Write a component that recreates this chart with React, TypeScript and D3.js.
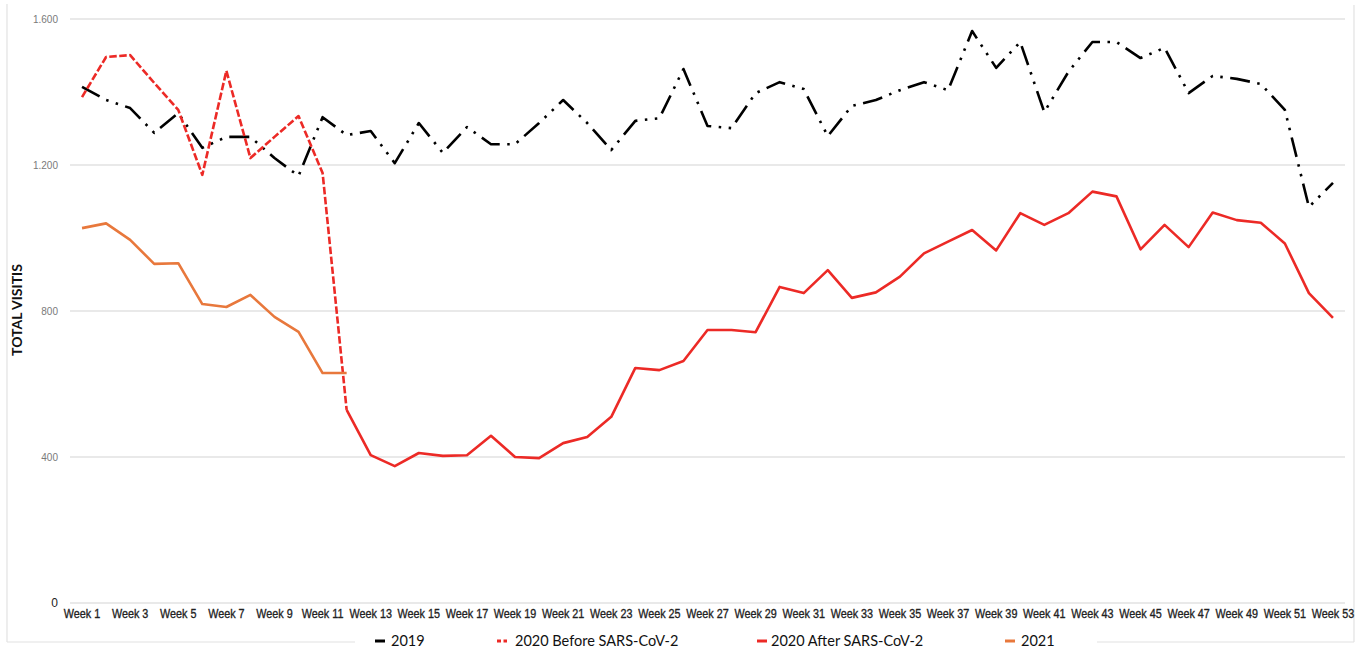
import React from "react";
import * as d3 from "d3";

// week categories, x axis shows every other one
const weeks = Array.from({ length: 53 }, (_, i) => `Week ${i + 1}`);
const yTicks = [0, 400, 800, 1200, 1600];
const yTickLabels = ["0", "400", "800", "1.200", "1.600"];

const visits2019 = [
  1414, 1378, 1356, 1288, 1342, 1247, 1277, 1277, 1219, 1170,
  1331, 1282, 1293, 1205, 1315, 1233, 1304, 1257, 1257, 1315,
  1378, 1315, 1241, 1321, 1328, 1463, 1307, 1301, 1397, 1427,
  1408, 1279, 1362, 1378, 1405, 1427, 1405, 1567, 1466, 1537,
  1345, 1455, 1537, 1537, 1493, 1521, 1397, 1444, 1436, 1422,
  1351, 1085, 1151,
];
// weeks 1-12
const before2020 = [1386, 1496, 1501, 1425, 1351, 1173, 1458, 1219, 1277, 1334, 1178, 529];
// weeks 12-53
const after2020 = [
  529, 405, 375, 411, 403, 405, 458, 400, 397, 438,
  455, 510, 644, 638, 663, 748, 748, 742, 866, 849,
  912, 836, 851, 894, 958, 990, 1022, 966, 1068, 1036,
  1068, 1127, 1114, 969, 1036, 975, 1070, 1049, 1042, 985,
  849, 781,
];
// weeks 1-12
const visits2021 = [1027, 1040, 995, 929, 931, 819, 811, 844, 784, 743, 630, 630];

const W = 1368;
const H = 648;

const black = "#000000";
const red = "#EC2A26";
const orange = "#E8783C";

type Pt = { week: string; v: number };

const toPts = (vals: number[], startWeek: number): Pt[] =>
  vals.map((v, i) => ({ week: weeks[startWeek - 1 + i], v }));

export default function App() {
  const x = d3.scaleBand<string>().domain(weeks).range([70, 1345]).padding(0);
  const y = d3.scaleLinear().domain([0, 1600]).range([603, 19]);
  const cx = (w: string) => (x(w) as number) + x.bandwidth() / 2;

  const line = d3
    .line<Pt>()
    .x((d) => cx(d.week))
    .y((d) => y(d.v));

  const series = [
    { name: "2019", pts: toPts(visits2019, 1), color: black, dash: "20 7.5 2.5 7.5 2.5 7.5" },
    { name: "2020 Before SARS-CoV-2", pts: toPts(before2020, 1), color: red, dash: "7.5 2.5" },
    { name: "2020 After SARS-CoV-2", pts: toPts(after2020, 12), color: red, dash: undefined },
    { name: "2021", pts: toPts(visits2021, 1), color: orange, dash: undefined },
  ];

  const legend = [
    { name: "2019", mx: 375, tx: 391, color: black, dash: undefined },
    { name: "2020 Before SARS-CoV-2", mx: 497, tx: 515, color: red, dash: "4 2.5" },
    { name: "2020 After SARS-CoV-2", mx: 757, tx: 771, color: red, dash: undefined },
    { name: "2021", mx: 1005, tx: 1021, color: orange, dash: undefined },
  ];

  return (
    <div style={{ position: "absolute", left: 0, top: 0 }}>
      <svg width={W} height={H} style={{ display: "block", background: "#fff" }}>
        {/* outer frame, broken where the legend sits */}
        <g stroke="#e2e2e2" strokeWidth={1.2} fill="none">
          <line x1={7} y1={4} x2={7} y2={642} />
          <line x1={1354} y1={5} x2={1354} y2={642} />
          <line x1={7} y1={642} x2={355} y2={642} />
          <line x1={1097} y1={642} x2={1354} y2={642} />
        </g>

        {/* grid */}
        {yTicks.map((t, i) => (
          <g key={t}>
            <line x1={70} x2={1345} y1={y(t)} y2={y(t)} stroke="#d4d4d4" strokeWidth={1.2} />
            <text
              x={58}
              y={y(t)}
              dy="0.35em"
              textAnchor="end"
              fontFamily="'Liberation Sans', Arial, sans-serif"
              fontSize={t === 0 ? 12 : 10}
              fill={t === 0 ? "#222" : "#7a7a7a"}
            >
              {yTickLabels[i]}
            </text>
          </g>
        ))}

        {/* x labels, squeezed like a narrow face */}
        {weeks
          .filter((_, i) => i % 2 === 0)
          .map((w) => (
            <text
              key={w}
              transform={`translate(${cx(w)},618) scale(0.8,1)`}
              textAnchor="middle"
              fontFamily="'Liberation Sans', Arial, sans-serif"
              fontSize={13.5}
              fill="#222"
              stroke="#222"
              strokeWidth={0.35}
            >
              {w}
            </text>
          ))}

        {/* y title */}
        <text
          transform="translate(22,310) rotate(-90)"
          textAnchor="middle"
          fontFamily="Lato, 'Open Sans', sans-serif"
          fontWeight="bold"
          fontSize={14}
          fill="#111"
        >
          TOTAL VISITIS
        </text>

        {/* lines */}
        {series.map((s) => (
          <path
            key={s.name}
            d={line(s.pts) || ""}
            fill="none"
            stroke={s.color}
            strokeWidth={2.6}
            strokeDasharray={s.dash}
            strokeLinejoin="round"
          />
        ))}

        {/* legend */}
        {legend.map((l) => (
          <g key={l.name}>
            <line
              x1={l.mx}
              x2={l.mx + 10}
              y1={641}
              y2={641}
              stroke={l.color}
              strokeWidth={3}
              strokeDasharray={l.dash}
            />
            <text
              x={l.tx}
              y={641}
              dy="0.35em"
              fontFamily="Lato, 'Open Sans', sans-serif"
              fontSize={14.5}
              fill="#111"
            >
              {l.name}
            </text>
          </g>
        ))}
      </svg>
    </div>
  );
}
